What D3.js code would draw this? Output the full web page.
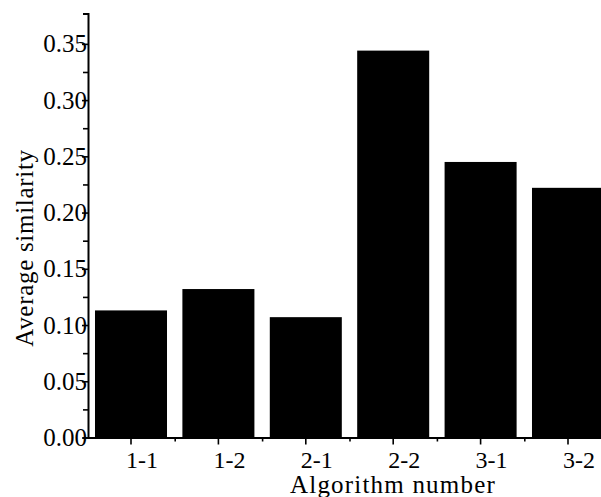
<!DOCTYPE html>
<html>
<head>
<meta charset="utf-8">
<script src="https://cdn.jsdelivr.net/npm/d3@7"></script>
<style>
  body { margin: 0; background: #fff; }
  svg { display: block; }
  text { font-family: "Liberation Serif", "Times New Roman", serif; fill: #000; }
</style>
</head>
<body>
<svg></svg>
<script>
// values
let categories = ["1-1", "1-2", "2-1", "2-2", "3-1", "3-2"]
let similarity = [0.113, 0.132, 0.107, 0.344, 0.245, 0.222]
let yTicks = [0, 0.05, 0.10, 0.15, 0.20, 0.25, 0.30, 0.35]
let yMinorTicks = [0.025, 0.075, 0.125, 0.175, 0.225, 0.275, 0.325]
let xMinorTicks = [0.5, 1.5, 2.5, 3.5, 4.5]

let width = 601
let height = 497
let plotLeft = 88
let plotBottom = 437.5
let plotTop = 13.5

let svg = d3.select("svg")
  .attr("width", width)
  .attr("height", height)

let xScale = d3.scaleBand()
  .domain(categories)
  .range([plotLeft, 611])
  .paddingInner(0.176)
  .paddingOuter(0.08)

// index -> bar centre, used for the small ticks between bars
let xIndexScale = d3.scaleLinear()
  .domain([0, categories.length - 1])
  .range([xScale(categories[0]) + xScale.bandwidth() / 2,
          xScale(categories[categories.length - 1]) + xScale.bandwidth() / 2])

let yScale = d3.scaleLinear()
  .domain([0, 0.377])
  .range([plotBottom, plotTop])

// bars
svg.selectAll("rect.bar")
  .data(similarity)
  .enter()
  .append("rect")
  .attr("class", "bar")
  .attr("x", (d, i) => xScale(categories[i]))
  .attr("y", d => yScale(d))
  .attr("width", xScale.bandwidth())
  .attr("height", d => plotBottom - yScale(d))
  .attr("fill", "#000")

// x axis
let xAxis = svg.append("g")
  .attr("transform", "translate(0," + plotBottom + ")")
  .call(d3.axisBottom(xScale).tickSize(7).tickSizeOuter(0).tickPadding(6))
xAxis.selectAll("text").attr("dx", 11).attr("font-size", 24)

svg.append("g")
  .attr("transform", "translate(0," + plotBottom + ")")
  .call(d3.axisBottom(xIndexScale).tickValues(xMinorTicks).tickSize(4).tickFormat(""))
  .select(".domain").remove()

// y axis
let yAxis = svg.append("g")
  .attr("transform", "translate(" + plotLeft + ",0)")
  .call(d3.axisLeft(yScale).tickValues(yTicks).tickFormat(d3.format(".2f"))
    .tickSize(6).tickSizeOuter(5).tickPadding(-5))
yAxis.selectAll("text").attr("font-size", 25)

svg.append("g")
  .attr("transform", "translate(" + plotLeft + ",0)")
  .call(d3.axisLeft(yScale).tickValues(yMinorTicks).tickSize(5).tickFormat(""))
  .select(".domain").remove()

svg.selectAll(".domain").attr("stroke-width", 2)
svg.selectAll(".tick line").attr("stroke-width", 1.6)
svg.selectAll(".tick text").style("font-family", "'Liberation Serif', serif")

// titles
svg.append("text")
  .attr("transform", "rotate(-90)")
  .attr("x", -248)
  .attr("y", 33)
  .attr("text-anchor", "middle")
  .attr("font-size", 25)
  .attr("letter-spacing", 0.7)
  .text("Average similarity")

svg.append("text")
  .attr("x", 393)
  .attr("y", 493)
  .attr("text-anchor", "middle")
  .attr("font-size", 25)
  .attr("letter-spacing", 1.2)
  .text("Algorithm number")
</script>
</body>
</html>
